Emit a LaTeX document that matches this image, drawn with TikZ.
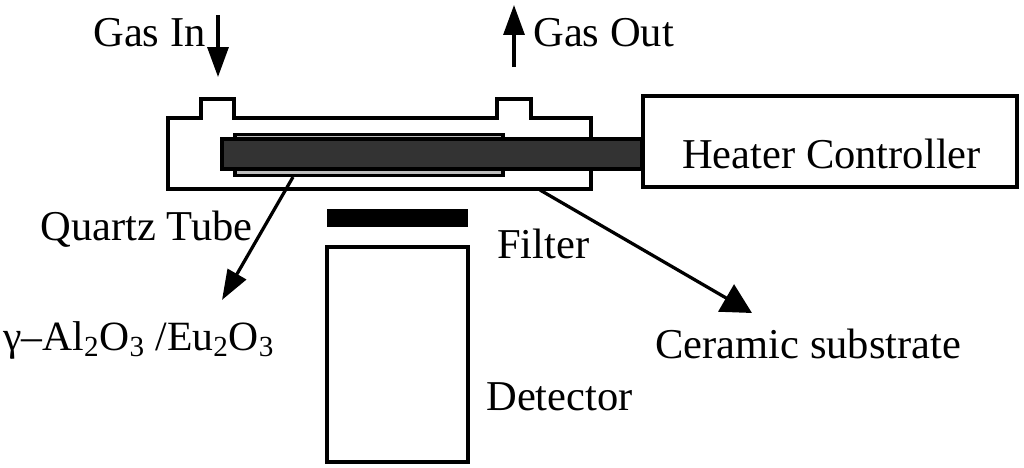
\documentclass[tikz,border=0pt]{standalone}
\usepackage{fontspec}
\setmainfont{Liberation Serif}
\usetikzlibrary{arrows.meta}
\definecolor{H}{RGB}{51,51,51}
\definecolor{S}{RGB}{190,190,190}
\newcommand{\labelfont}{\fontsize{24.2}{28}\selectfont}
\newcommand{\drawthick}{\draw[line width=1.85pt]}
\newcommand{\textlabel}[4]{\node[anchor=base west,inner sep=0pt,font=\labelfont] (#1) at (#2,#3) {#4};}
\tikzset{
  pointer/.style={line width=1.85pt,-{Triangle[length=0.6cm,width=#1]}},
  pointer/.default=0.42cm,
  box/.style={draw,line width=1.85pt,inner sep=0pt}
}
\begin{document}
\begin{tikzpicture}[x=0.02cm,y=-0.02cm]
\useasboundingbox (0,0) rectangle (1024,467);
% housing
\drawthick (201,118)--(168,118)--(168,189)--(591,189)--(591,118)--(531,118)--(531,99)--(497,99)--(497,118)--(234,118)--(234,99)--(201,99)--cycle;
% substrate and heater
\node[box,fill=S,minimum width=5.36cm,minimum height=0.82cm] (substrate) at (369,155) {};
\node[box,fill=H,minimum width=8.4cm,minimum height=0.6cm] (heater) at (432,154) {};
\node[box,fill=white,minimum width=7.48cm,minimum height=1.82cm] (controller) at (830,141.5) {};
\node[font=\labelfont,anchor=base,inner sep=0pt] (controllerlabel) at (831.5,168) {Heater Controller};
% filter and detector
\node[fill=black,inner sep=0pt,minimum width=2.82cm,minimum height=0.36cm] (filter) at (397.5,218) {};
\node[box,minimum width=2.82cm,minimum height=4.3cm] (detector) at (397.5,354.5) {};
% labels
\textlabel{gasin}{93}{46}{Gas In}
\textlabel{gasout}{533}{46}{Gas Out}
\textlabel{quartz}{40}{240}{Quartz Tube}
\textlabel{filterlabel}{497}{258}{Filter}
\textlabel{alumina}{3}{350}{\fontsize{23.7}{28}\selectfont γ–Al\textsubscript{2}O\textsubscript{3} /Eu\textsubscript{2}O\textsubscript{3}}
\textlabel{ceramic}{655}{358}{Ceramic substrate}
\textlabel{detectorlabel}{486}{410}{Detector}
% arrows
\coordinate (intop) at (218,15);
\coordinate (inend) at (218,77);
\coordinate (outtop) at (514,5);
\coordinate (outend) at (514,67);
\coordinate (aluminaend) at (222,300);
\coordinate (aluminastart) at (293,177);
\coordinate (ceramicend) at (752,313);
\coordinate (ceramicstart) at (540,190);
\draw[pointer] (intop)--(inend);
\draw[pointer] (outend)--(outtop);
\draw[pointer] (aluminastart)--(aluminaend);
\draw[pointer=0.62cm] (ceramicstart)--(ceramicend);
\end{tikzpicture}
\end{document}
